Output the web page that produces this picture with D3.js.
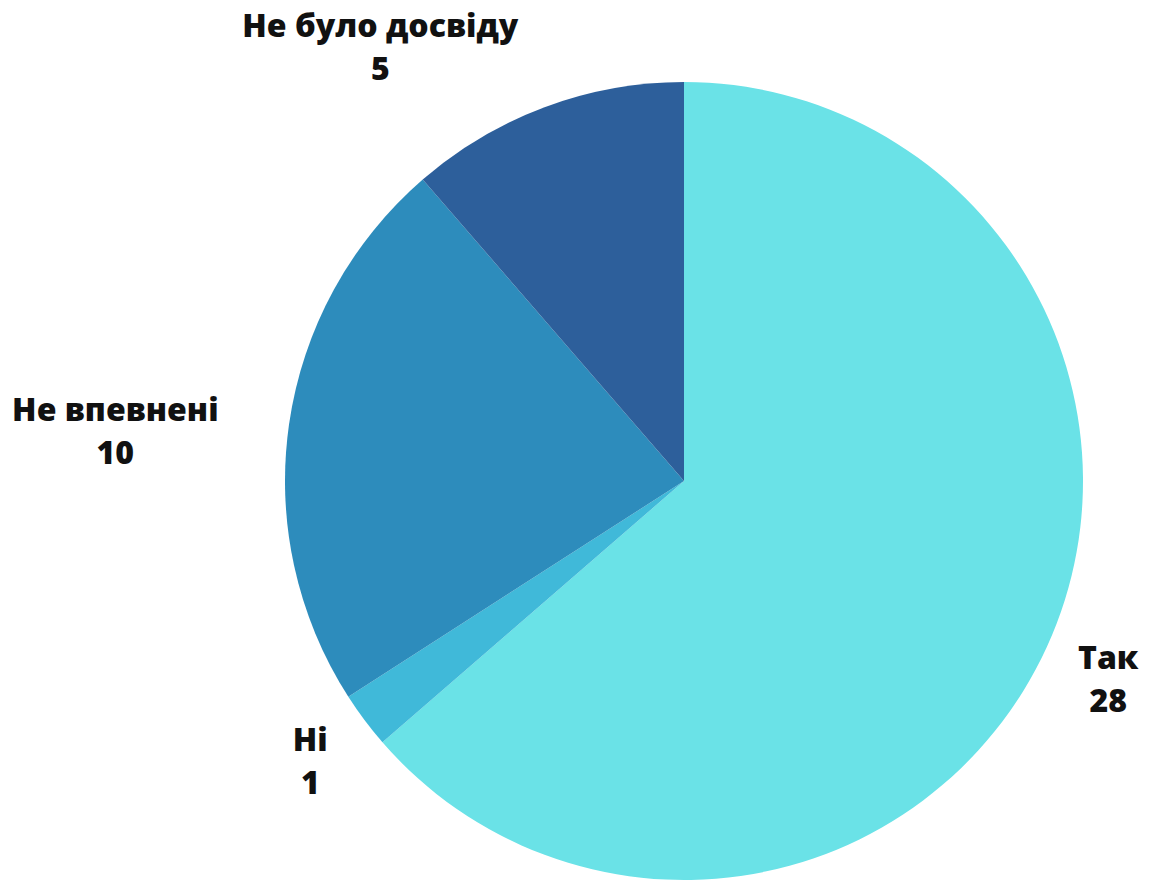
<!DOCTYPE html>
<html>
<head>
<meta charset="utf-8">
<script src="https://cdn.jsdelivr.net/npm/d3@7"></script>
<style>
  body { margin: 0; background: #fff; }
  text { font-family: "Open Sans", sans-serif; font-weight: 800; fill: #111; }
</style>
</head>
<body>
<svg></svg>
<script>
const width = 1158, height = 881;
const svg = d3.select("svg").attr("width", width).attr("height", height);

// Data
const labels = ["Так", "Ні", "Не впевнені", "Не було досвіду"];
const values = [28, 1, 10, 5];
const colors = ["#6ae2e7", "#40b9d9", "#2d8cbc", "#2d5f9b"];

const cx = 684, cy = 481, radius = 399;
const labelRadius = 445;
// small hand nudges so labels sit where the original put them
const nudge = [[-11, 3], [0, 3], [-25, 25], [-10, -5]];

const pie = d3.pie().sort(null).value(d => d.value);
const arcs = pie(labels.map((l, i) => ({ label: l, value: values[i], color: colors[i] })));

const arc = d3.arc().innerRadius(0).outerRadius(radius);

const g = svg.append("g").attr("transform", `translate(${cx},${cy})`);

g.selectAll("path")
    .data(arcs)
    .enter().append("path")
    .attr("d", arc)
    .attr("fill", d => d.data.color);

// Labels placed just outside the slice, pushed away from the pie
const lab = g.selectAll("g.label")
    .data(arcs)
    .enter().append("g")
    .attr("class", "label");

lab.each(function(d) {
    const a = (d.startAngle + d.endAngle) / 2;
    const x = labelRadius * Math.sin(a);
    const y = -labelRadius * Math.cos(a);
    const t = d3.select(this).append("text")
        .attr("font-size", "32px")
        .attr("text-anchor", "middle");
    t.append("tspan").attr("x", 0).attr("dy", 0).text(d.data.label);
    t.append("tspan").attr("x", 0).attr("dy", 43).text(d.data.value);
    const w = this.getBBox().width;
    const n = nudge[d.index];
    const dx = x + Math.sign(Math.sin(a)) * w / 2 + n[0];
    const dy = y + (Math.cos(a) > 0 ? -22 : 0) + n[1];
    d3.select(this).attr("transform", `translate(${dx},${dy})`);
});
</script>
</body>
</html>
